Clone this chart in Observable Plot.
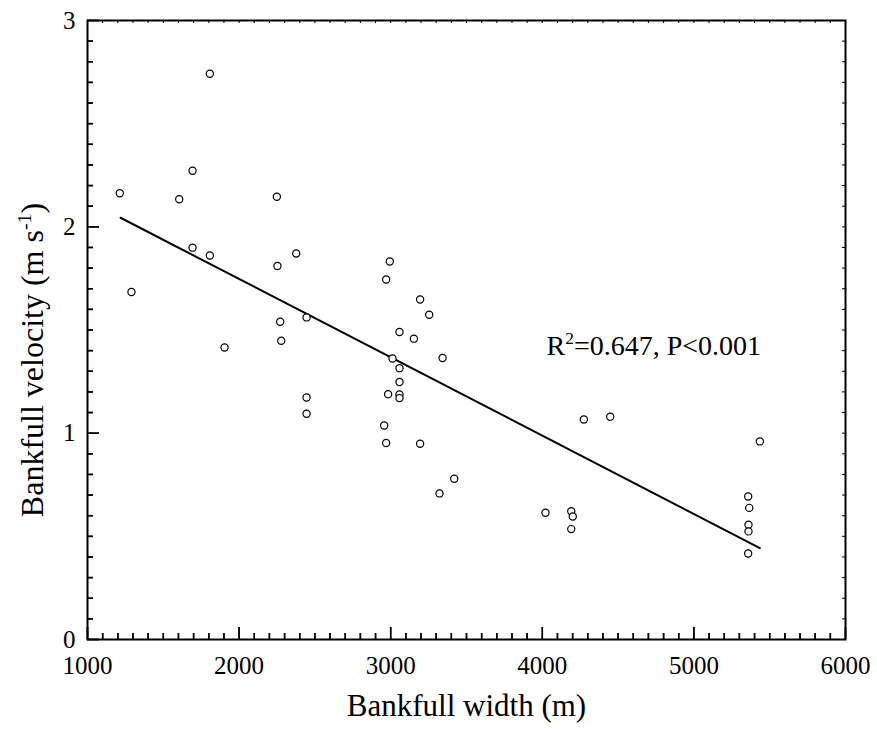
<!DOCTYPE html>
<html>
<head>
<meta charset="utf-8">
<script src="https://cdn.jsdelivr.net/npm/d3@7"></script>
<script src="https://cdn.jsdelivr.net/npm/@observablehq/plot@0.6"></script>
<style>
  html, body { margin: 0; padding: 0; background: #fff; }
</style>
</head>
<body>
<div id="chart"></div>
<script>
// ---- data ----
const widths = [1807,1693,1213,1605,2249,1693,1807,2377,2253,1290,2271,2445,2278,1904,2445,2445,2994,2970,3194,3254,3058,3153,3012,3342,3058,3058,2983,3058,3058,2957,2970,3194,3419,3322,4274,4448,4021,4191,4201,4191,5435,5358,5365,5360,5360,5358];
const velocities = [2.742,2.272,2.163,2.134,2.146,1.899,1.861,1.871,1.810,1.684,1.540,1.561,1.448,1.415,1.173,1.094,1.832,1.745,1.648,1.574,1.490,1.458,1.362,1.364,1.315,1.248,1.189,1.188,1.170,1.037,0.952,0.949,0.779,0.708,1.066,1.080,0.614,0.622,0.596,0.535,0.960,0.693,0.638,0.556,0.524,0.417];
const fitWidths = [1218, 5435];
const fitVelocities = [2.044, 0.443];
const xTicks = [1000, 2000, 3000, 4000, 5000, 6000];
const yTicks = [0, 1, 2, 3];
const xLabel = "Bankfull width (m)";
const yLabel = ["Bankfull velocity (m s", "-1", ")"];
const statText = ["R", "2", "=0.647, P<0.001"];

const points = widths.map((w, i) => ({w, v: velocities[i]}));
const fit = fitWidths.map((w, i) => ({w, v: fitVelocities[i]}));
const xMinor = d3.range(10, 61).map(d => d * 100).filter(d => d % 1000 !== 0);
const yMinor = d3.range(0, 31).filter(d => d % 10 !== 0).map(d => d / 10);

const FONT = "'Liberation Serif', 'Times New Roman', Times, serif";
const W = 877, H = 729, ML = 87, MR = 32, MT = 20, MB = 90;
const innerW = W - ML - MR, innerH = H - MT - MB;
const noText = () => "";

const plot = Plot.plot({
  width: W,
  height: H,
  marginLeft: ML,
  marginRight: MR,
  marginTop: MT,
  marginBottom: MB,
  style: {fontFamily: FONT, fontSize: "25px", color: "black", background: "white"},
  x: {domain: [1000, 6000]},
  y: {domain: [0, 3]},
  marks: [
    Plot.frame({stroke: "black", strokeWidth: 2, fill: "none"}),
    Plot.axisX(xTicks, {tickSize: 0, tickPadding: 17, fontSize: 25, label: null, tickFormat: d => String(d)}),
    Plot.axisY(yTicks, {tickSize: 0, tickPadding: 12, fontSize: 25, label: null, tickFormat: d => String(d)}),
    Plot.line(fit, {x: "w", y: "v", stroke: "black", strokeWidth: 2}),
    Plot.dot(points, {x: "w", y: "v", r: 3.6, stroke: "black", strokeWidth: 1.2, fill: "white"}),
    Plot.text([statText.join("")], {x: 4028, y: 1.381, text: d => d, textAnchor: "start", lineAnchor: "bottom", fontSize: 28, className: "stat-label"}),
    Plot.text([yLabel.join("")], {frameAnchor: "left", dx: -45, dy: 30, rotate: -90, text: d => d, textAnchor: "middle", lineAnchor: "bottom", fontSize: 32, className: "y-label"}),
    Plot.text([xLabel], {frameAnchor: "bottom", dy: 76, text: d => d, textAnchor: "middle", lineAnchor: "bottom", fontSize: 31}),
    // inward ticks, drawn last so nothing covers them
    Plot.tickX(xMinor, {x: d => d, insetTop: innerH - 6, stroke: "black", strokeWidth: 1.5}),
    Plot.tickX(xTicks, {x: d => d, insetTop: innerH - 12, stroke: "black", strokeWidth: 1.5}),
    Plot.tickX(xMinor.concat(xTicks), {x: d => d, insetBottom: innerH - 3, stroke: "black", strokeWidth: 1}),
    Plot.tickY(yMinor, {y: d => d, insetRight: innerW - 6, stroke: "black", strokeWidth: 1.5}),
    Plot.tickY(yTicks, {y: d => d, insetRight: innerW - 12, stroke: "black", strokeWidth: 1.5}),
    Plot.tickY(yMinor.concat(yTicks), {y: d => d, insetLeft: innerW - 3, stroke: "black", strokeWidth: 1}),
    // same inward ticks through axis marks (negative tick size points inward)
    Plot.axisX(xMinor, {tickSize: -6, strokeWidth: 1.5, tickFormat: noText, label: null}),
    Plot.axisX(xTicks, {tickSize: -12, strokeWidth: 1.5, tickFormat: noText, label: null}),
    Plot.axisY(yMinor, {tickSize: -6, strokeWidth: 1.5, tickFormat: noText, label: null}),
    Plot.axisY(yTicks, {tickSize: -12, strokeWidth: 1.5, tickFormat: noText, label: null})
  ]
});

document.getElementById("chart").appendChild(plot);

// turn the middle part of a label into a real superscript
function superscript(selector, parts, shift) {
  d3.select(plot).selectAll(`.${selector} text`).each(function() {
    const t = d3.select(this);
    t.text(null);
    t.append("tspan").text(parts[0]);
    t.append("tspan").attr("dy", -shift).attr("font-size", "0.62em").text(parts[1]);
    t.append("tspan").attr("dy", shift).text(parts[2]);
  });
}
superscript("stat-label", statText, 11);
superscript("y-label", yLabel, 12);
</script>
</body>
</html>
